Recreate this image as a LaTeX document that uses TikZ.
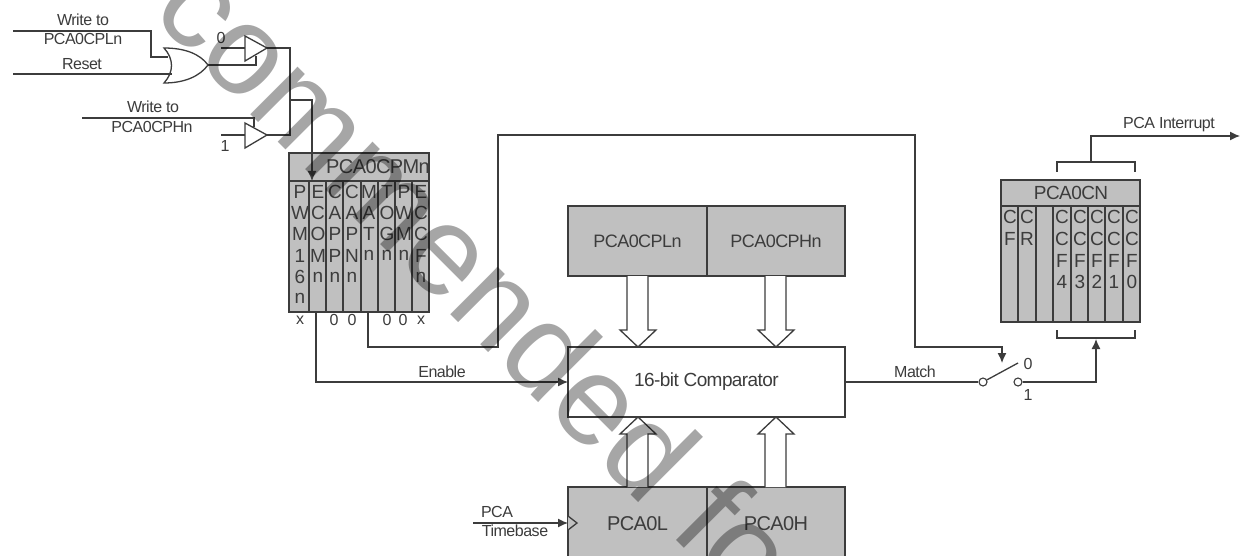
\documentclass[tikz,border=0pt]{standalone}
\usepackage{fontspec}
\setmainfont{Liberation Sans}
\newfontfamily\tightfont[LetterSpace=-3]{Liberation Sans}
\usetikzlibrary{arrows.meta}
\definecolor{ink}{HTML}{3C3C3C}
\definecolor{boxgray}{HTML}{C0C0C0}
\tikzset{
  wire/.style={draw=ink,line width=1.3pt},
  wirearrow/.style={wire,-{Latex[length=10pt,width=9pt]}},
  graybox/.style={draw=ink,line width=1.5pt,fill=boxgray,rectangle,inner sep=0pt,text=ink,font=\tightfont\fontsize{18}{18}\selectfont},
  whitebox/.style={graybox,fill=white},
  hollow/.style={draw=ink,line width=1.3pt,fill=white,line join=miter},
  lbl/.style={inner sep=0pt,text=ink,font=\tightfont\fontsize{16}{16}\selectfont},
  cell/.style={inner sep=0pt,text=ink,font=\tightfont\fontsize{19}{19}\selectfont},
  divider/.style={draw=ink,line width=1.3pt},
  pin/.style={draw=ink,line width=1.1pt,fill=white,circle,inner sep=0pt,minimum size=8pt},
}
\begin{document}
\begin{tikzpicture}[x=1pt,y=-1pt]
\useasboundingbox (0,0) rectangle (1241,556);
\clip (0,0) rectangle (1241,556);
\fill[white] (0,0) rectangle (1241,556);

% named anchors
\coordinate (w1a) at (13,31);
\coordinate (w1b) at (151,31);
\coordinate (w1c) at (151,57);
\coordinate (orA) at (168,57);
\coordinate (rs) at (13,74);
\coordinate (orB) at (172,74);
\coordinate (orOut) at (208,65);
\coordinate (b0in) at (221,48);
\coordinate (b0a) at (245,48);
\coordinate (b0o) at (267,48);
\coordinate (b1in) at (221,135);
\coordinate (b1a) at (245,135);
\coordinate (b1o) at (267,135);
\coordinate (busT) at (290,48);
\coordinate (busB) at (290,135);
\coordinate (busM) at (290,100);
\coordinate (w2a) at (82,118);
\coordinate (b1c) at (254,127);
\coordinate (b0c) at (256,56);
\coordinate (ecomIn) at (312,181);

% OR gate
\draw[wire,fill=white] (164,48) .. controls (185,48) and (200,54) .. (208,65)
   .. controls (200,76) and (185,83) .. (164,83)
   .. controls (174,72) and (174,59) .. (164,48) -- cycle;
% tristate buffers
\draw[hollow] (245,36) -- (267,48) -- (245,61) -- cycle;
\draw[hollow] (245,123) -- (267,135) -- (245,148) -- cycle;

% input wires
\draw[wire] (w1a) -- (w1b) -- (w1c) -- (orA);
\draw[wire] (rs) -- (orB);
\draw[wire] (orOut) -| (b0c);
\draw[wire] (b0in) -- (b0a);
\draw[wire] (b1in) -- (b1a);
\draw[wire] (b0o) -- (busT) -- (busB) -- (b1o);
\draw[wire] (w2a) -| (b1c);
\node[lbl] (t1) at (83,20) {Write to};
\node[lbl] (t2) at (83,39) {PCA0CPLn};
\node[lbl] (t3) at (82,64) {Reset};
\node[lbl] (t4) at (153,107) {Write to};
\node[lbl] (t5) at (152,127) {PCA0CPHn};
\node[lbl] (t0) at (221,38) {0};
\node[lbl] (t1b) at (225,146) {1};

% PCA0CPMn register
\node[graybox,minimum width=140pt,minimum height=159pt] (cpm) at (359,232.5) {};
\draw[divider] (289,181) -- (429,181);
\foreach \x in {309,326,343,361,378,395,412} \draw[divider] (\x,181) -- (\x,312);
\node[cell,font=\tightfont\fontsize{20}{20}\selectfont,anchor=east] (cpmT) at (430,167) {PCA0CPMn};
\foreach \x/\txt [count=\i] in {
  300/{P,W,M,1,6,n},318/{E,C,O,M,n},335/{C,A,P,P,n},352/{C,A,P,N,n},
  369/{M,A,T,n},387/{T,O,G,n},404/{P,W,M,n},421/{E,C,C,F,n}}{
  \foreach \c [count=\j] in \txt {
    \node[cell] (cpm\i-\j) at (\x,{170.5+21.3*\j}) {\c};
  }
}
\foreach \x/\v [count=\i] in {300/x,334/0,352/0,387/0,403/0,421/x}
  \node[lbl] (bit\i) at (\x,320) {\v};

% middle boxes
\node[graybox,minimum width=139pt,minimum height=70pt] (cpl) at (637.5,241) {PCA0CPLn};
\node[graybox,minimum width=138pt,minimum height=70pt] (cph) at (776,241) {PCA0CPHn};
\node[whitebox,minimum width=277pt,minimum height=70pt,font=\tightfont\fontsize{19}{19}\selectfont] (cmp) at (706.5,382) {16-bit Comparator};
\node[graybox,minimum width=139pt,minimum height=74pt,font=\tightfont\fontsize{20}{20}\selectfont,text depth=0pt] (pl) at (637.5,524) {PCA0L};
\node[graybox,minimum width=138pt,minimum height=74pt,font=\tightfont\fontsize{20}{20}\selectfont,text depth=0pt] (ph) at (776,524) {PCA0H};

% hollow bus arrows
\draw[hollow] (627,276) -- (627,330) -- (620,330) -- (638,347) -- (656,330) -- (648,330) -- (648,276);
\draw[hollow] (765,276) -- (765,330) -- (758,330) -- (776,347) -- (794,330) -- (786,330) -- (786,276);
\draw[hollow] (627,487) -- (627,434) -- (620,434) -- (638,417) -- (656,434) -- (648,434) -- (648,487);
\draw[hollow] (765,487) -- (765,434) -- (758,434) -- (776,417) -- (794,434) -- (786,434) -- (786,487);

% clock
\draw[wire,fill=boxgray] (568,516) -- (577,523) -- (568,530);
\coordinate (tb) at (473,523);
\coordinate (clk) at (568,523);
\draw[wirearrow] (tb) -- (clk);
\node[lbl] (t6) at (497,512) {PCA};
\node[lbl] (t7) at (515,531) {Timebase};

% control wires
\draw[wirearrow] (busM) -- (312,100) -- (ecomIn);
\coordinate (ecomOut) at (316,312);
\coordinate (enIn) at (568,382);
\draw[wirearrow] (ecomOut) |- (enIn);
\node[lbl] (t8) at (442,372) {Enable};
\coordinate (matOut) at (368,312);
\coordinate (swCtl) at (1002,363);
\draw[wirearrow] (matOut) -- (368,347) -- (498,347) -- (498,135) -- (915,135) -- (915,347) -- (1002,347) -- (swCtl);

% switch
\node[pin] (sw1) at (983,382) {};
\node[pin] (sw2) at (1018,382) {};
\coordinate (swTop) at (1018,363);
\draw[wire] (cmp.east) -- (sw1);
\draw[wire] (sw1) -- (swTop);
\node[lbl] (t9) at (915,372) {Match};
\node[lbl] (t10) at (1028,364) {0};
\node[lbl] (t11) at (1028,395) {1};
\coordinate (brkIn) at (1096,339);
\draw[wirearrow] (sw2) -| (brkIn);

% PCA0CN register
\node[graybox,minimum width=139pt,minimum height=142pt] (cn) at (1070.5,251) {};
\node[cell,font=\tightfont\fontsize{19}{19}\selectfont] (cnT) at (1071,193) {PCA0CN};
\draw[divider] (1001,206) -- (1140,206);
\foreach \x in {1018,1036,1053,1071,1088,1105,1123} \draw[divider] (\x,206) -- (\x,322);
\foreach \x/\txt [count=\i] in {
  1010/{C,F},1027/{C,R},1062/{C,C,F,4},1080/{C,C,F,3},1097/{C,C,F,2},1114/{C,C,F,1},1132/{C,C,F,0}}{
  \foreach \c [count=\j] in \txt {
    \node[cell] (cn\i-\j) at (\x,{195.5+21.7*\j}) {\c};
  }
}
% brackets
\draw[wire] (1057,330) -- (1057,338) -- (1135,338) -- (1135,330);
\draw[wire] (1057,172) -- (1057,162) -- (1135,162) -- (1135,172);
\coordinate (intOut) at (1240,136);
\coordinate (brkTop) at (1091,162);
\draw[wirearrow] (brkTop) |- (intOut);
\node[lbl] (t12) at (1169,125) {PCA Interrupt};

% diagonal grey overprint
\node[rotate=-45,anchor=base,inner sep=0pt,text=black,text opacity=.35,font=\fontsize{127}{127}\selectfont] (wm) at (447,311) {commended fo};
\end{tikzpicture}
\end{document}
